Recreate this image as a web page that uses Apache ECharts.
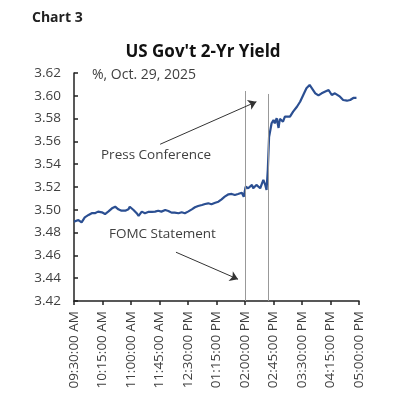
<!DOCTYPE html>
<html><head><meta charset="utf-8">
<script src="https://cdn.jsdelivr.net/npm/echarts@6/dist/echarts.min.js"></script>
<style>html,body{margin:0;padding:0;background:#fff}#c{width:393px;height:400px}</style>
</head><body><div id="c"></div>
<script>
// minutes after 09:30 AM
const minutes = [0,7,12,17,23,28,33,38,44,49,54,60,65,70,75,81,86,88,94,99,102,107,112,117,123,128,133,138,144,149,154,159,165,170,175,180,186,191,196,202,207,212,217,223,228,233,238,244,249,254,259,265,268,271,275,281,283,288,294,299,302,304,306,308,312,315,317,320,323,325,330,333,336,341,346,352,357,362,367,372,375,381,386,391,396,402,407,412,415,420,425,431,436,441,446];
const yields = [3.4896,3.491,3.489,3.4934,3.4955,3.497,3.497,3.4984,3.4978,3.4963,3.4984,3.5013,3.5027,3.5004,3.4992,3.4992,3.5004,3.5027,3.4998,3.497,3.4946,3.4984,3.497,3.4981,3.4981,3.4984,3.4992,3.4984,3.4998,3.499,3.4975,3.4975,3.497,3.4978,3.497,3.4984,3.5004,3.5022,3.5033,3.5042,3.5051,3.5057,3.5049,3.5062,3.5071,3.5092,3.5115,3.5136,3.5139,3.513,3.5139,3.515,3.5115,3.5203,3.5189,3.5218,3.5189,3.5218,3.5189,3.5262,3.5218,3.5174,3.535,3.5639,3.5759,3.5788,3.5759,3.5803,3.5718,3.5797,3.5773,3.5817,3.5832,3.5817,3.5861,3.5904,3.5948,3.6007,3.6066,3.6095,3.608,3.6022,3.6003,3.6022,3.6036,3.6051,3.6007,3.6022,3.6036,3.5992,3.5963,3.5957,3.5963,3.5981,3.5981];
const xTickLabels = ['09:30:00 AM','10:15:00 AM','11:00:00 AM','11:45:00 AM','12:30:00 PM','01:15:00 PM','02:00:00 PM','02:45:00 PM','03:30:00 PM','04:15:00 PM','05:00:00 PM'];
const eventMinutes = [270, 306]; // FOMC statement, press conference
const eventTops = [3.6042, 3.6016];

const data = minutes.map((m, i) => [m, yields[i]]);
const FONT = 'Open Sans';
const chart = echarts.init(document.getElementById('c'));
chart.setOption({
  animation: false,
  textStyle: {fontFamily: FONT},
  grid: {left: 74, right: 34, top: 73, bottom: 99},
  title: [
    {text: 'Chart 3', left: 27, top: 6, textStyle: {fontFamily: FONT, fontSize: 14, fontWeight: 'bold', color: '#222'}},
    {text: "US Gov't 2-Yr Yield", left: 198, textAlign: 'center', top: 39, textStyle: {fontFamily: FONT, fontSize: 17, fontWeight: 'bold', color: '#111'}},
    {text: '%, Oct. 29, 2025', left: 87, top: 63, textStyle: {fontFamily: FONT, fontSize: 14, fontWeight: 'normal', color: '#404040'}}
  ],
  xAxis: {
    type: 'value', min: 0, max: 450, interval: 45,
    axisLine: {lineStyle: {color: '#222', width: 1.5}},
    axisTick: {inside: false, length: 4, lineStyle: {color: '#222', width: 1.5}},
    splitLine: {show: false},
    axisLabel: {rotate: 90, fontSize: 13.5, color: '#404040', margin: 10, fontFamily: FONT,
      formatter: v => xTickLabels[Math.round(v / 45)]}
  },
  yAxis: {
    type: 'value', min: 3.42, max: 3.62, interval: 0.02,
    axisLine: {show: true, lineStyle: {color: '#222', width: 1.5}},
    axisTick: {show: true, inside: true, length: 4, lineStyle: {color: '#222', width: 1.5}},
    splitLine: {show: false},
    axisLabel: {fontSize: 13.5, color: '#404040', margin: 13, fontFamily: FONT, formatter: v => v.toFixed(2)}
  },
  series: [{
    type: 'line', data: data, showSymbol: false,
    lineStyle: {color: '#2b4f92', width: 2.2},
    markLine: {
      silent: true, symbol: ['none', 'none'], label: {show: false},
      data: [
        [{coord: [eventMinutes[0], eventTops[0]], lineStyle: {color: '#999', width: 1, type: 'solid'}}, {coord: [eventMinutes[0], 3.42]}],
        [{coord: [eventMinutes[1], eventTops[1]], lineStyle: {color: '#999', width: 1, type: 'solid'}}, {coord: [eventMinutes[1], 3.42]}],
        [{coord: [136, 3.5575], symbol: 'none', lineStyle: {color: '#333', width: 1, type: 'solid'}}, {coord: [288, 3.5948], symbol: 'arrow', symbolSize: 8}],
        [{coord: [161, 3.4628], symbol: 'none', lineStyle: {color: '#333', width: 1, type: 'solid'}}, {coord: [259, 3.4391], symbol: 'arrow', symbolSize: 8}]
      ]
    }
  }],
  graphic: [
    {type: 'text', left: 101, top: 148, style: {text: 'Press Conference', fontFamily: FONT, fontSize: 13.5, fill: '#404040'}},
    {type: 'text', left: 109, top: 227, style: {text: 'FOMC Statement', fontFamily: FONT, fontSize: 13.5, fill: '#404040'}}
  ]
});
</script></body></html>
